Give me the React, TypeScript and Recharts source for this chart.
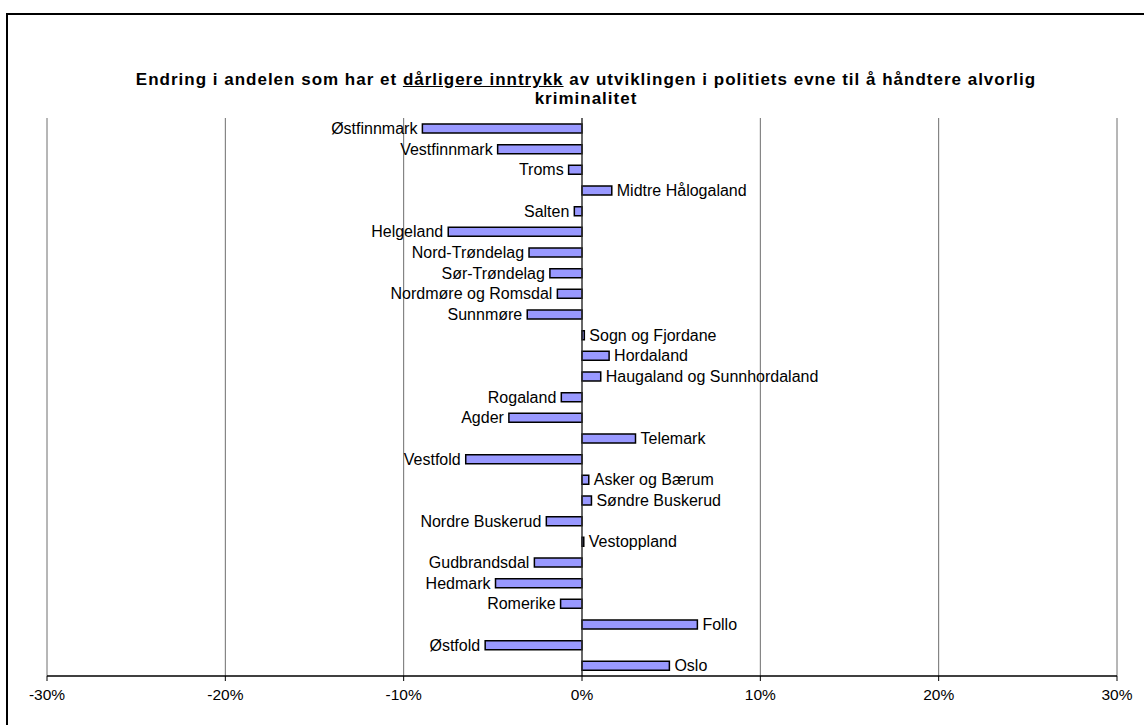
import React from "react";
import {
  BarChart,
  Bar,
  XAxis,
  YAxis,
  CartesianGrid,
  ReferenceLine,
  LabelList,
} from "recharts";

const categories = [
  "Østfinnmark",
  "Vestfinnmark",
  "Troms",
  "Midtre Hålogaland",
  "Salten",
  "Helgeland",
  "Nord-Trøndelag",
  "Sør-Trøndelag",
  "Nordmøre og Romsdal",
  "Sunnmøre",
  "Sogn og Fjordane",
  "Hordaland",
  "Haugaland og Sunnhordaland",
  "Rogaland",
  "Agder",
  "Telemark",
  "Vestfold",
  "Asker og Bærum",
  "Søndre Buskerud",
  "Nordre Buskerud",
  "Vestoppland",
  "Gudbrandsdal",
  "Hedmark",
  "Romerike",
  "Follo",
  "Østfold",
  "Oslo",
];

const changeValues = [
  -0.0895, -0.0473, -0.0075, 0.0167, -0.0043, -0.075, -0.0297, -0.018,
  -0.0138, -0.0307, 0.0013, 0.0152, 0.0105, -0.0116, -0.041, 0.03, -0.0652,
  0.0038, 0.0053, -0.02, 0.001, -0.0267, -0.0485, -0.012, 0.0647, -0.0543,
  0.049,
];

const xTicks = [-0.3, -0.2, -0.1, 0, 0.1, 0.2, 0.3];

const titleBefore = "Endring i andelen som har et ";
const titleUnderlined = "dårligere inntrykk";
const titleAfter =
  " av utviklingen i politiets evne til å håndtere alvorlig";
const titleLine2 = "kriminalitet";

const data = categories.map((name, i) => ({ name, value: changeValues[i] }));

const FONT = "'Liberation Sans', Arial, sans-serif";

const renderLabel = (props: any) => {
  const { x, y, width, height, index } = props;
  const d = data[index];
  const xn = Number(x);
  const wn = Number(width);
  const left = Math.min(xn, xn + wn);
  const right = Math.max(xn, xn + wn);
  const cy = Number(y) + Number(height) / 2;
  const neg = d.value < 0;
  return (
    <text
      x={neg ? left - 5 : right + 5}
      y={cy}
      textAnchor={neg ? "end" : "start"}
      dominantBaseline="central"
      fontFamily={FONT}
      fontSize={16}
      fill="#000"
    >
      {d.name}
    </text>
  );
};

export default function App() {
  return (
    <div
      style={{
        position: "absolute",
        left: 0,
        top: 0,
        width: 1144,
        height: 725,
        overflow: "hidden",
        background: "#fff",
      }}
    >
      <div
        style={{
          position: "absolute",
          left: 6,
          top: 13,
          width: 1300,
          height: 900,
          border: "2px solid #000",
        }}
      />
      <div
        style={{
          position: "absolute",
          left: 0,
          top: 70,
          width: 1172,
          textAlign: "center",
          fontFamily: FONT,
          fontWeight: "bold",
          fontSize: 17,
          letterSpacing: 1,
          lineHeight: "19px",
          color: "#000",
        }}
      >
        {titleBefore}
        <span style={{ textDecoration: "underline" }}>{titleUnderlined}</span>
        {titleAfter}
        <br />
        {titleLine2}
      </div>
      <div style={{ position: "absolute", left: 0, top: 0 }}>
        <BarChart
          width={1144}
          height={725}
          data={data}
          layout="vertical"
          margin={{ top: 118, right: 27, bottom: 19, left: 47 }}
          barCategoryGap={0}
        >
          <CartesianGrid
            horizontal={false}
            vertical={true}
            stroke="#6e6e6e"
            strokeWidth={1}
          />
          <XAxis
            type="number"
            domain={[-0.3, 0.3]}
            ticks={xTicks}
            tickFormatter={(v: number) => `${Math.round(v * 100)}%`}
            axisLine={{ stroke: "#000", strokeWidth: 1.5 }}
            tickLine={{ stroke: "#000" }}
            tickSize={5}
            tickMargin={8}
            height={30}
            tick={{ fontFamily: FONT, fontSize: 15.5, fill: "#000" }}
            allowDataOverflow
          />
          <XAxis
            xAxisId="top"
            type="number"
            orientation="top"
            domain={[-0.3, 0.3]}
            ticks={xTicks}
            tick={false}
            tickLine={false}
            axisLine={{ stroke: "#8a8a8a" }}
            height={0}
          />
          <YAxis type="category" dataKey="name" hide width={0} />
          <ReferenceLine x={0} stroke="#333" strokeWidth={1.2} />
          <Bar
            dataKey="value"
            fill="#9999ff"
            stroke="#000"
            strokeWidth={1.5}
            barSize={9}
            isAnimationActive={false}
          >
            <LabelList dataKey="name" content={renderLabel} />
          </Bar>
        </BarChart>
      </div>
    </div>
  );
}
